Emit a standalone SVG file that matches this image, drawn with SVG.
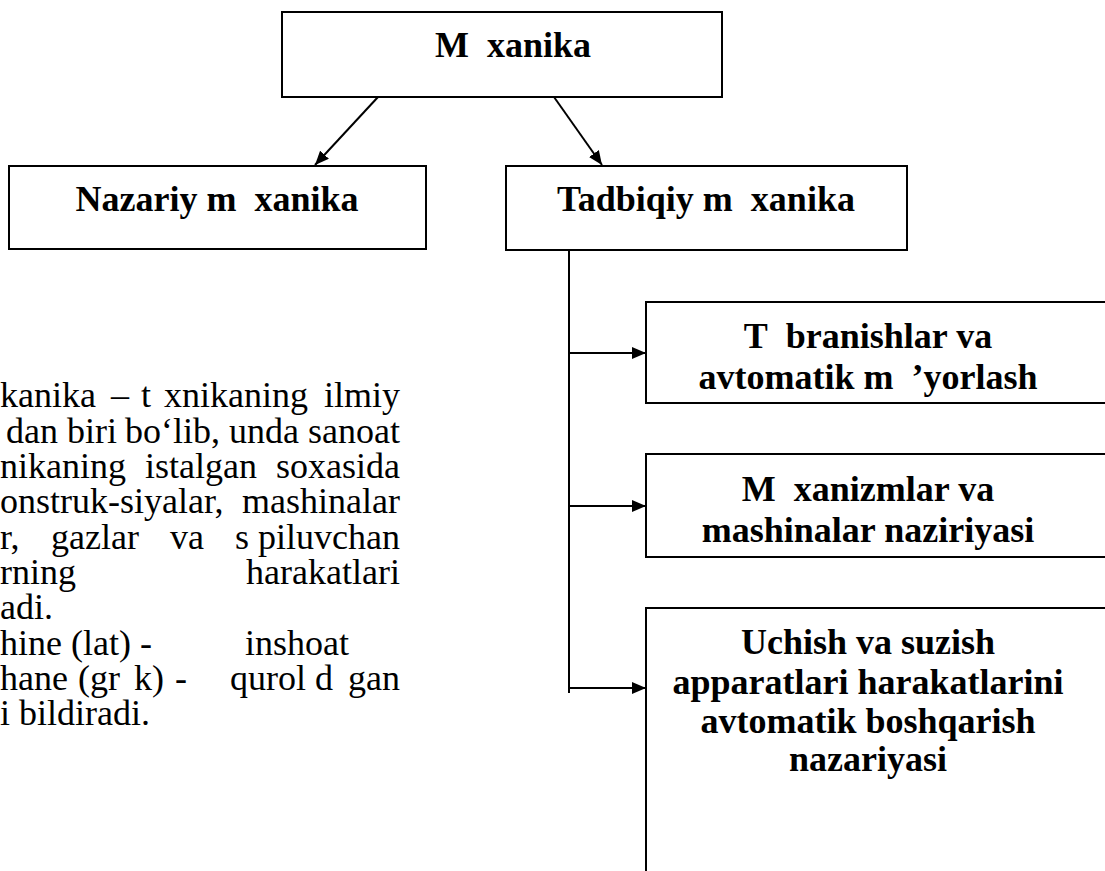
<svg xmlns="http://www.w3.org/2000/svg" width="1105" height="871" viewBox="0 0 1105 871">
<style>
.box{fill:#fff;stroke:#000;stroke-width:2}
.ln{fill:none;stroke:#000;stroke-width:2}
.b{font-family:"Liberation Serif","Times New Roman",serif;font-weight:bold;font-size:36px;fill:#000;text-anchor:middle}
.t{font-family:"Liberation Serif","Times New Roman",serif;font-size:36px;fill:#000}
</style>
<defs>
<marker id="ah" viewBox="0 0 14 12" refX="14" refY="6" markerWidth="14" markerHeight="12" orient="auto" markerUnits="userSpaceOnUse">
<path d="M0,0 L14,6 L0,12 z" fill="#000"/>
</marker>
</defs>
<rect width="1105" height="871" fill="#fff"/>
<g id="connectors">
<line class="ln" x1="378" y1="97" x2="315" y2="165" marker-end="url(#ah)"/>
<line class="ln" x1="554" y1="97" x2="602" y2="165" marker-end="url(#ah)"/>
<line class="ln" x1="569" y1="250" x2="569" y2="693"/>
<line class="ln" x1="568" y1="353" x2="646" y2="353" marker-end="url(#ah)"/>
<line class="ln" x1="568" y1="506" x2="646" y2="506" marker-end="url(#ah)"/>
<line class="ln" x1="568" y1="688" x2="646" y2="688" marker-end="url(#ah)"/>
</g>
<g id="node-mexanika">
<rect class="box" x="282" y="12" width="440" height="85"/>
<text class="b" x="513" y="57">M&#160; xanika</text>
</g>
<g id="node-nazariy">
<rect class="box" x="9" y="166" width="417" height="83"/>
<text class="b" x="217" y="211">Nazariy m&#160; xanika</text>
</g>
<g id="node-tadbiqiy">
<rect class="box" x="506" y="166" width="401" height="84"/>
<text class="b" x="706" y="211">Tadbiqiy m&#160; xanika</text>
</g>
<g id="node-tebranish">
<rect class="box" x="646" y="302" width="480" height="101"/>
<text class="b" x="868" y="348">T&#160; branishlar va</text>
<text class="b" x="868" y="389">avtomatik m&#160; ’yorlash</text>
</g>
<g id="node-mexanizm">
<rect class="box" x="646" y="454" width="480" height="103"/>
<text class="b" x="868" y="501">M&#160; xanizmlar va</text>
<text class="b" x="868" y="542">mashinalar naziriyasi</text>
</g>
<g id="node-uchish">
<rect class="box" x="646" y="608" width="480" height="280"/>
<text class="b" x="868" y="654">Uchish va suzish</text>
<text class="b" x="868" y="694">apparatlari harakatlarini</text>
<text class="b" x="868" y="733">avtomatik boshqarish</text>
<text class="b" x="868" y="771">nazariyasi</text>
</g>
<g id="body-text">
<text class="t" y="407"><tspan x="0">kanika</tspan><tspan x="111">–</tspan><tspan x="141">t</tspan><tspan x="164">xnikaning</tspan><tspan x="324">ilmiy</tspan></text>
<text class="t" y="442.5"><tspan x="6">dan</tspan><tspan x="67">biri</tspan><tspan x="125">bo‘lib,</tspan><tspan x="229">unda</tspan><tspan x="308">sanoat</tspan></text>
<text class="t" y="478"><tspan x="0">nikaning</tspan><tspan x="145">istalgan</tspan><tspan x="276">soxasida</tspan></text>
<text class="t" y="513"><tspan x="0">onstruk-siyalar,</tspan><tspan x="242">mashinalar</tspan></text>
<text class="t" y="548.5"><tspan x="0">r,</tspan><tspan x="51">gazlar</tspan><tspan x="170">va</tspan><tspan x="235">s</tspan><tspan x="258">piluvchan</tspan></text>
<text class="t" y="584"><tspan x="0">rning</tspan><tspan x="246">harakatlari</tspan></text>
<text class="t" y="619"><tspan x="0">adi.</tspan></text>
<text class="t" y="654.5"><tspan x="0">hine (lat) -</tspan><tspan x="245">inshoat</tspan></text>
<text class="t" y="690"><tspan x="0">hane</tspan><tspan x="78">(gr</tspan><tspan x="134">k)</tspan><tspan x="175">-</tspan><tspan x="230">qurol</tspan><tspan x="315">d</tspan><tspan x="348">gan</tspan></text>
<text class="t" y="725"><tspan x="0">i bildiradi.</tspan></text>
</g>
</svg>
